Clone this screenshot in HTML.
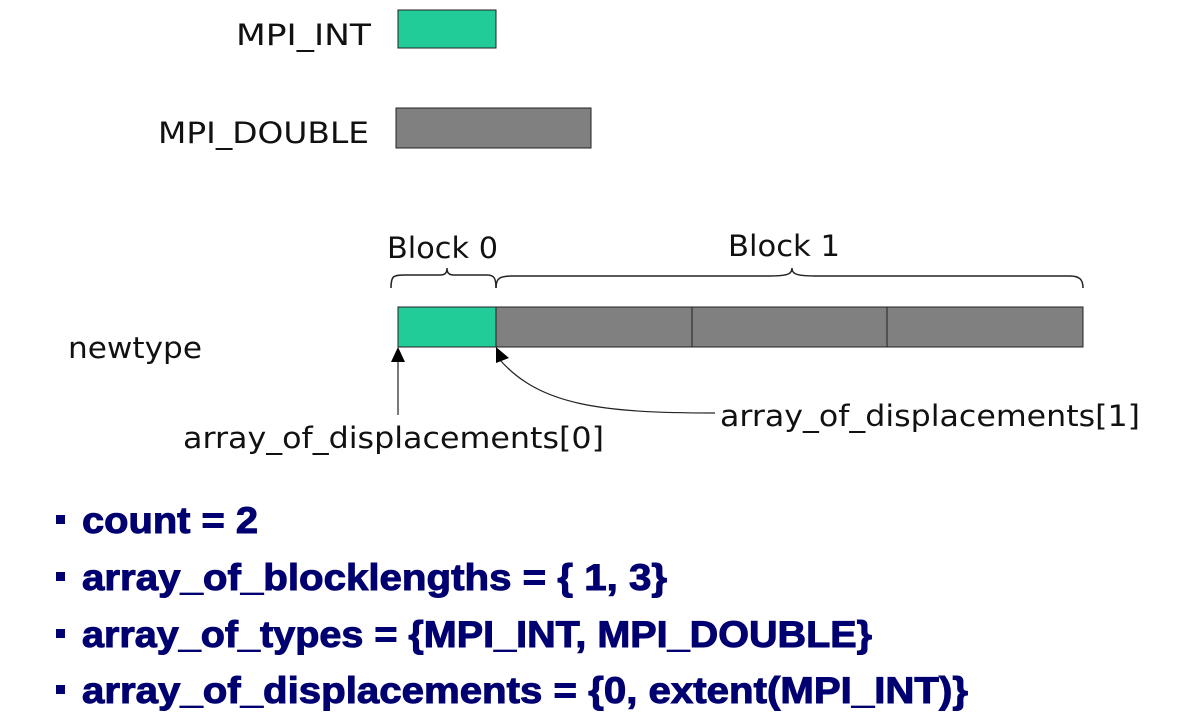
<!DOCTYPE html>
<html><head><meta charset="utf-8"><style>
body{margin:0;background:#fff;width:1192px;height:724px;overflow:hidden}
svg{display:block}
.d{font-family:"DejaVu Sans","Liberation Sans",sans-serif;font-size:29px;fill:#111}
.b{font-family:"Liberation Sans",sans-serif;font-weight:bold;font-size:37px;fill:#000070;paint-order:stroke;stroke:#000070;stroke-width:1px}
</style></head><body>
<svg width="1192" height="724">
<text class="d" x="236" y="45" textLength="135" lengthAdjust="spacingAndGlyphs">MPI_INT</text>
<rect x="398" y="10" width="98" height="38" fill="#22cc99" stroke="#222"/>
<text class="d" x="158" y="143" textLength="211" lengthAdjust="spacingAndGlyphs">MPI_DOUBLE</text>
<rect x="396" y="108" width="195" height="40" fill="#808080" stroke="#222"/>
<text class="d" x="387" y="258" textLength="111" lengthAdjust="spacingAndGlyphs">Block 0</text>
<text class="d" x="728" y="256" textLength="112" lengthAdjust="spacingAndGlyphs">Block 1</text>
<path d="M391,288 C391,276 393,275 405,275 L440,275 C446,275 447,272 447,268 C447,272 448,275 454,275 L487,275 C494,275 496,278 496,288" fill="none" stroke="#222" stroke-width="1.5"/>
<path d="M496,288 C496,278 500,276 512,276 L770,276 C790,276 792,273 792,268 C792,273 794,276 815,276 L1070,276 C1080,276 1083,280 1083,288" fill="none" stroke="#222" stroke-width="1.5"/>
<text class="d" x="68" y="358" textLength="134" lengthAdjust="spacingAndGlyphs">newtype</text>
<rect x="398" y="307" width="98" height="40" fill="#22cc99" stroke="#222"/>
<rect x="496" y="307" width="196" height="40" fill="#808080" stroke="#222"/>
<rect x="692" y="307" width="195" height="40" fill="#808080" stroke="#222"/>
<rect x="887" y="307" width="196" height="40" fill="#808080" stroke="#222"/>
<line x1="398" y1="360" x2="398" y2="415" stroke="#222" stroke-width="1.2"/>
<polygon points="398,347 391,362 405,362" fill="#000"/>
<path d="M500,360 C540,405 600,413 715,413" fill="none" stroke="#222" stroke-width="1.2"/>
<polygon points="496,347 496,363 509,358" fill="#000"/>
<text class="d" x="183" y="448" textLength="421" lengthAdjust="spacingAndGlyphs">array_of_displacements[0]</text>
<text class="d" x="720" y="426" textLength="420" lengthAdjust="spacingAndGlyphs">array_of_displacements[1]</text>
<g>
<rect x="56" y="515" width="9" height="9" fill="#000070"/>
<text class="b" x="82" y="533" textLength="176" lengthAdjust="spacingAndGlyphs">count = 2</text>
<rect x="56" y="572" width="9" height="9" fill="#000070"/>
<text class="b" x="82" y="590" textLength="585" lengthAdjust="spacingAndGlyphs">array_of_blocklengths = { 1, 3}</text>
<rect x="56" y="629" width="9" height="9" fill="#000070"/>
<text class="b" x="82" y="647" textLength="790" lengthAdjust="spacingAndGlyphs">array_of_types = {MPI_INT, MPI_DOUBLE}</text>
<rect x="56" y="685" width="9" height="9" fill="#000070"/>
<text class="b" x="82" y="703" textLength="886" lengthAdjust="spacingAndGlyphs">array_of_displacements = {0, extent(MPI_INT)}</text>
</g>
</svg>
</body></html>
